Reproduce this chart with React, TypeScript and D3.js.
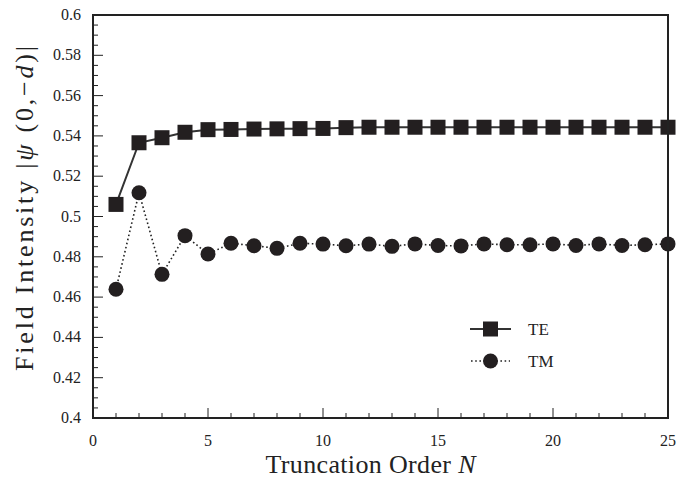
import * as d3 from "d3";

const orders = d3.range(1, 26);
const teValues = [
  0.506, 0.5366, 0.5391, 0.5418, 0.5431, 0.5432, 0.5434, 0.5435, 0.5436, 0.5437,
  0.5441, 0.5443, 0.5443, 0.5443, 0.5443, 0.5443, 0.5443, 0.5443, 0.5443, 0.5443,
  0.5443, 0.5443, 0.5443, 0.5443, 0.5443,
];
const tmValues = [
  0.4639, 0.5118, 0.4713, 0.4905, 0.4814, 0.4867, 0.4855, 0.4842, 0.4867, 0.4863,
  0.4855, 0.4863, 0.4852, 0.4864, 0.4856, 0.4854, 0.4864, 0.486, 0.486, 0.4864,
  0.4856, 0.4864, 0.4856, 0.486, 0.4864,
];
const xTicks = [0, 5, 10, 15, 20, 25];
const yTicks = [0.4, 0.42, 0.44, 0.46, 0.48, 0.5, 0.52, 0.54, 0.56, 0.58, 0.6];

const width = 687;
const height = 480;
const m = { left: 93, right: 668, top: 15, bottom: 418 };
const serif = "'Liberation Serif', 'DejaVu Serif', serif";

export default function App() {
  const x = d3.scaleLinear().domain([0, 25]).range([m.left, m.right]);
  const y = d3.scaleLinear().domain([0.4, 0.6]).range([m.bottom, m.top]);

  const line = d3
    .line<number>()
    .x((_, i) => x(orders[i]))
    .y((d) => y(d));

  const xMinor = d3.range(0, 26).filter((v) => v % 5 !== 0);
  const yMinor = d3.range(0, 41).map((i) => 0.4 + i * 0.005).filter((_, i) => i % 4 !== 0);

  return (
    <svg
      width={width}
      height={height}
      style={{ position: "absolute", left: 0, top: 0, background: "#fff" }}
    >
      {/* minor ticks */}
      {xMinor.map((v) => (
        <line key={"xm" + v} x1={x(v)} x2={x(v)} y1={m.bottom} y2={m.bottom - 5} stroke="#222" strokeWidth={1} />
      ))}
      {yMinor.map((v, i) => (
        <line key={"ym" + i} x1={m.left} x2={m.left + 5} y1={y(v)} y2={y(v)} stroke="#222" strokeWidth={1} />
      ))}
      {/* major ticks */}
      {xTicks.map((v) => (
        <line key={"xM" + v} x1={x(v)} x2={x(v)} y1={m.bottom} y2={m.bottom - 10} stroke="#222" strokeWidth={1} />
      ))}
      {yTicks.map((v) => (
        <line key={"yM" + v} x1={m.left} x2={m.left + 10} y1={y(v)} y2={y(v)} stroke="#222" strokeWidth={1} />
      ))}

      {/* TM dotted line and circles */}
      <path d={line(tmValues) ?? ""} fill="none" stroke="#222" strokeWidth={1.6} strokeDasharray="1.6 2.6" />
      {tmValues.map((v, i) => (
        <circle key={"tm" + i} cx={x(orders[i])} cy={y(v)} r={7.5} fill="#231f20" />
      ))}

      {/* TE solid line and squares */}
      <path d={line(teValues) ?? ""} fill="none" stroke="#333" strokeWidth={2} />
      {teValues.map((v, i) => (
        <rect key={"te" + i} x={x(orders[i]) - 7.5} y={y(v) - 7.5} width={15} height={15} fill="#231f20" />
      ))}

      {/* frame */}
      <rect x={m.left} y={m.top} width={m.right - m.left} height={m.bottom - m.top} fill="none" stroke="#222" strokeWidth={2} />

      {/* tick labels */}
      {xTicks.map((v) => (
        <text key={"xl" + v} x={x(v)} y={m.bottom + 28} textAnchor="middle" fontFamily={serif} fontSize={16} fill="#222">
          {v}
        </text>
      ))}
      {yTicks.map((v) => (
        <text key={"yl" + v} x={m.left - 12} y={y(v) + 5} textAnchor="end" fontFamily={serif} fontSize={16} fill="#222">
          {d3.format("")(+v.toFixed(2))}
        </text>
      ))}

      {/* axis titles */}
      <text
        x={(m.left + m.right) / 2 - 10}
        y={473}
        textAnchor="middle"
        fontFamily={serif}
        fontSize={26}
        fill="#222"
        textLength={210}
        lengthAdjust="spacing"
      >
        Truncation Order <tspan fontStyle="italic">N</tspan>
      </text>
      <text
        transform={`translate(33, ${(m.top + m.bottom) / 2 - 8}) rotate(-90)`}
        textAnchor="middle"
        fontFamily={serif}
        fontSize={26}
        fill="#222"
        textLength={325}
        lengthAdjust="spacing"
      >
        Field Intensity |<tspan fontStyle="italic">ψ</tspan> (0,−<tspan fontStyle="italic">d</tspan>)|
      </text>

      {/* legend */}
      <line x1={470} x2={511} y1={329} y2={329} stroke="#333" strokeWidth={2} />
      <rect x={483} y={321.5} width={15} height={15} fill="#231f20" />
      <text x={528} y={335} fontFamily={serif} fontSize={17} fill="#222">TE</text>
      <line x1={471} x2={510} y1={361} y2={361} stroke="#222" strokeWidth={1.6} strokeDasharray="1.6 2.6" />
      <circle cx={490.5} cy={361} r={7.5} fill="#231f20" />
      <text x={528} y={367} fontFamily={serif} fontSize={17} fill="#222">TM</text>
    </svg>
  );
}
